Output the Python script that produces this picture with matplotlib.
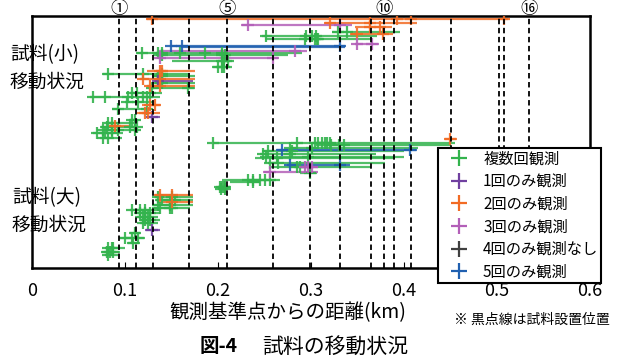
import matplotlib
matplotlib.use('Agg')
import matplotlib.pyplot as plt
from matplotlib.lines import Line2D

plt.rcParams['font.family'] = ['Noto Sans CJK JP', 'DejaVu Sans']

# sample installation positions (km from the reference point)
sample_pos = [0.094, 0.112, 0.130, 0.169, 0.210, 0.259, 0.299, 0.331,
              0.365, 0.379, 0.389, 0.407, 0.450, 0.502, 0.508, 0.534]
pos_marks = {0: '①', 4: '⑤', 9: '⑩', 15: '⑯'}

# one row per sample: (row level, moved from km, moved to km, observed km)
multi_obs = [
    (118.2, 0.323, 0.396, [0.329, 0.339]),
    (116.0, 0.247, 0.371, [0.252, 0.295, 0.301, 0.305]),
    (114.6, 0.250, 0.366, [0.294, 0.304, 0.306, 0.308]),
    (107.5, 0.113, 0.290, [0.118, 0.135, 0.140, 0.159, 0.186, 0.204]),
    (106.3, 0.130, 0.275, [0.140, 0.204, 0.208]),
    (103.7, 0.150, 0.215, [0.204, 0.206, 0.211]),
    (100.5, 0.195, 0.215, [0.200, 0.204, 0.206]),
    (97.0, 0.076, 0.170, [0.082, 0.119, 0.140]),
    (96.0, 0.130, 0.175, [0.135, 0.140]),
    (92.5, 0.132, 0.175, [0.135, 0.140]),
    (90.0, 0.127, 0.175, [0.129, 0.168]),
    (87.5, 0.105, 0.140, [0.108, 0.113, 0.127]),
    (85.7, 0.062, 0.138, [0.066, 0.079, 0.103, 0.119, 0.124]),
    (83.2, 0.100, 0.130, [0.102, 0.114]),
    (79.3, 0.086, 0.124, [0.092, 0.124]),
    (74.0, 0.105, 0.113, [0.108, 0.111]),
    (72.5, 0.080, 0.110, [0.082, 0.086]),
    (70.7, 0.073, 0.113, [0.081, 0.105, 0.113]),
    (69.0, 0.075, 0.113, [0.076, 0.086, 0.092, 0.111]),
    (67.3, 0.066, 0.098, [0.070, 0.079, 0.086]),
    (64.8, 0.073, 0.097, [0.076, 0.082]),
    (62.5, 0.195, 0.455, [0.195, 0.285, 0.304, 0.308, 0.312, 0.315, 0.317, 0.320]),
    (61.5, 0.305, 0.450, [0.322, 0.330, 0.336]),
    (60.0, 0.277, 0.415, [0.277, 0.301]),
    (58.7, 0.248, 0.400, [0.254, 0.280]),
    (57.0, 0.245, 0.370, [0.248, 0.277]),
    (55.7, 0.250, 0.400, [0.252, 0.297]),
    (55.0, 0.240, 0.390, [0.263]),
    (52.4, 0.254, 0.380, [0.256, 0.265]),
    (50.7, 0.256, 0.365, [0.285, 0.288]),
    (47.5, 0.288, 0.306, [0.299]),
    (44.0, 0.204, 0.267, [0.232, 0.238, 0.245, 0.250, 0.256]),
    (43.2, 0.213, 0.245, [0.238]),
    (40.7, 0.200, 0.213, [0.202, 0.204, 0.206, 0.208]),
    (39.5, 0.200, 0.211, [0.203, 0.207]),
    (35.7, 0.132, 0.173, [0.135, 0.151]),
    (34.0, 0.132, 0.173, [0.140, 0.148, 0.154]),
    (31.5, 0.130, 0.173, [0.135, 0.148]),
    (30.0, 0.129, 0.170, [0.138, 0.148, 0.151]),
    (29.0, 0.105, 0.138, [0.108, 0.116, 0.122]),
    (27.5, 0.111, 0.138, [0.116, 0.122, 0.127]),
    (25.7, 0.111, 0.135, [0.119, 0.122, 0.125]),
    (24.0, 0.116, 0.138, [0.122, 0.127]),
    (22.5, 0.116, 0.135, [0.119, 0.125]),
    (17.5, 0.105, 0.116, [0.111]),
    (15.0, 0.095, 0.122, [0.100, 0.108, 0.114]),
    (12.5, 0.103, 0.116, [0.109]),
    (10.0, 0.078, 0.100, [0.082, 0.086, 0.087]),
    (8.0, 0.075, 0.095, [0.081, 0.084, 0.087]),
    (6.5, 0.078, 0.092, [0.082]),
]
once_obs = [
    (93.7, 0.132, 0.173, [0.135]),
    (75.5, 0.124, 0.138, [0.129]),
    (19.0, 0.122, 0.138, [0.129]),
]
twice_obs = [
    (124.3, 0.124, 0.512, [0.129, 0.392, 0.408, 0.508]),
    (122.3, 0.315, 0.414, [0.320, 0.363]),
    (120.7, 0.347, 0.387, [0.363, 0.374]),
    (117.0, 0.342, 0.388, [0.349, 0.377]),
    (98.7, 0.124, 0.175, [0.138, 0.140]),
    (94.5, 0.116, 0.175, [0.119, 0.138]),
    (91.0, 0.124, 0.175, [0.127, 0.138]),
    (81.5, 0.118, 0.138, [0.127, 0.132]),
    (77.3, 0.113, 0.138, [0.122, 0.125]),
    (71.0, 0.084, 0.105, [0.089]),
    (64.4, 0.444, 0.457, [0.449]),
    (36.5, 0.132, 0.173, [0.138, 0.151]),
    (33.0, 0.135, 0.173, [0.151]),
]
thrice_obs = [
    (121.5, 0.225, 0.344, [0.232, 0.331]),
    (111.9, 0.347, 0.373, [0.349, 0.366]),
    (108.7, 0.135, 0.296, [0.283]),
    (104.9, 0.135, 0.265, [0.138, 0.259]),
    (50.7, 0.288, 0.308, [0.294, 0.297, 0.301]),
    (47.9, 0.248, 0.308, [0.256]),
]
four_obs = []
five_obs = [
    (111.0, 0.148, 0.337, [0.149, 0.161, 0.331]),
    (110.3, 0.160, 0.337, []),
    (59.0, 0.263, 0.414, [0.269, 0.406]),
    (51.5, 0.274, 0.342, [0.277, 0.331]),
]

series = [
    ('複数回観測', '#33b34d', multi_obs),
    ('1回のみ観測', '#7040a0', once_obs),
    ('2回のみ観測', '#f26b24', twice_obs),
    ('3回のみ観測', '#b35fb8', thrice_obs),
    ('4回のみ観測なし', '#404040', four_obs),
    ('5回のみ観測', '#2060b0', five_obs),
]

fig = plt.figure(figsize=(6.27, 3.6), dpi=100)
ax = fig.add_axes([32 / 627, 1 - 268 / 360, 558 / 627, 252 / 360])
ax.set_xlim(0, 0.6)
ax.set_ylim(0, 126)

for name, color, rows in series:
    for y, x0, x1, obs in rows:
        ax.plot([x0, x1], [y, y], color=color, lw=1.6, alpha=0.85,
                solid_capstyle='butt', zorder=2)
        ax.plot(obs, [y] * len(obs), ls='none', marker='+', ms=8.5, mew=1.6,
                color=color, alpha=0.9, zorder=3)

# dashed lines at the sample installation points, numbered above the frame
mark_y = 1 - 9 / 360
for i, xp in enumerate(sample_pos):
    ax.axvline(xp, color='black', ls=(0, (3, 2)), lw=1.3, zorder=4)
    if i in pos_marks:
        xf = fig.transFigure.inverted().transform(ax.transData.transform((xp, 0)))[0]
        fig.text(xf, mark_y, pos_marks[i], ha='center', va='center', fontsize=12.5)

ax.set_xticks([0, 0.1, 0.2, 0.3, 0.4, 0.5, 0.6])
ax.set_xticklabels(['0', '0.1', '0.2', '0.3', '0.4', '0.5', '0.6'], fontsize=13)
ax.tick_params(axis='x', direction='in', length=4, pad=10)
ax.set_yticks([])
for sp in ax.spines.values():
    sp.set_linewidth(1.8)

fig.text(288 / 627, 1 - 313 / 360, '観測基準点からの距離(km)', fontsize=14,
         va='center', ha='center')

fig.text(10 / 627, 1 - 55 / 360, '試料(小)', fontsize=13.5, va='center', ha='left')
fig.text(10 / 627, 1 - 82 / 360, '移動状況', fontsize=13.5, va='center', ha='left')
fig.text(12 / 627, 1 - 198 / 360, '試料(大)', fontsize=13.5, va='center', ha='left')
fig.text(12 / 627, 1 - 225 / 360, '移動状況', fontsize=13.5, va='center', ha='left')

fig.text(454 / 627, 1 - 320 / 360, '※ 黒点線は試料設置位置', fontsize=10,
         va='center', ha='left')
fig.text(238 / 627, 1 - 347 / 360, '図-4', fontsize=14, fontweight='bold',
         va='center', ha='right')
fig.text(262 / 627, 1 - 347 / 360, '試料の移動状況', fontsize=15,
         va='center', ha='left')

handles = [Line2D([], [], ls='none', marker='+', ms=12, mew=1.6, color=c)
           for _, c, _ in series]
leg = fig.legend(handles, [n for n, _, _ in series], loc='upper left',
                 bbox_to_anchor=(438 / 627, 1 - 148 / 360), fontsize=11,
                 frameon=True, fancybox=False, framealpha=1, edgecolor='black',
                 labelspacing=0.37, handlelength=2.5, handletextpad=0.3,
                 borderpad=0.15, borderaxespad=0)
leg.get_frame().set_linewidth(1.5)
leg.set_zorder(10)

fig.savefig('out.png', dpi=100)
